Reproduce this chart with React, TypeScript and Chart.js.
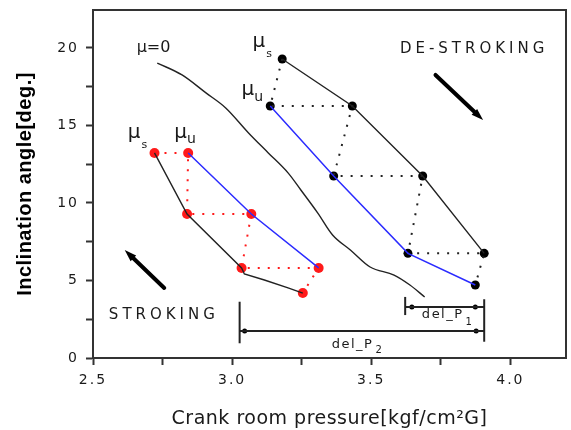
import React, { useEffect, useRef } from 'react';
import { Chart, registerables } from 'chart.js';

Chart.register(...registerables);

// ---- axes ----
const xTicks = [2.5, 2.75, 3.0, 3.25, 3.5, 3.75, 4.0];
const xTickLabels = ['2.5', '', '3.0', '', '3.5', '', '4.0'];
const yTicks = [0, 2.5, 5, 7.5, 10, 12.5, 15, 17.5, 20];
const yTickLabels = ['0', '', '5', '', '10', '', '15', '', '20'];
const xTitle = 'Crank room pressure[kgf/cm²G]';
const yTitle = 'Inclination angle[deg.]';

// ---- mu = 0 curve ----
const muZeroX = [2.731, 2.82, 2.906, 2.977, 3.059, 3.13, 3.201, 3.247, 3.308, 3.361, 3.425, 3.496, 3.582, 3.639, 3.692];
const muZeroY = [19.03, 18.26, 17.1, 16.13, 14.52, 13.23, 11.94, 10.84, 9.35, 7.94, 6.97, 5.87, 5.35, 4.71, 3.94];

// ---- stroking (red) ----
const strokeMuSX = [2.721, 2.838, 3.034, 3.254];
const strokeMuSY = [13.23, 9.29, 5.81, 4.19];
const strokeMuSLineX = [2.721, 2.838, 3.034, 3.044, 3.116, 3.201, 3.254];
const strokeMuSLineY = [13.23, 9.29, 5.81, 5.42, 5.03, 4.52, 4.19];
const strokeMuUX = [2.842, 3.069, 3.311];
const strokeMuUY = [13.23, 9.29, 5.81];

// ---- de-stroking (black) ----
const destrokeMuSX = [3.18, 3.432, 3.685, 3.906];
const destrokeMuSY = [19.29, 16.26, 11.74, 6.75];
const destrokeMuUX = [3.137, 3.365, 3.632, 3.874];
const destrokeMuUY = [16.26, 11.74, 6.75, 4.71];

// ---- del_P brackets ----
const delP1Y = 3.29;
const delP1Span = [3.622, 3.906];
const delP1Dots = [3.646, 3.874];
const delP1BarY = [2.77, 3.94];
const delP2Y = 1.74;
const delP2Span = [3.027, 3.906];
const delP2Dots = [3.045, 3.877];
const delP2BarY = [0.95, 3.63];
const rightBarX = 3.906;
const rightBarY = [1.05, 3.79];

// ---- annotations ----
const annoTexts = ['μ', 'μ', 'μ', 'μ', 'μ=0', 'DE-STROKING', 'STROKING', 'del_P', 'del_P'];
const annoSubs = ['s', 'u', 's', 'u', '', '', '', '1', '2'];
const annoX = [2.625, 2.792, 3.073, 3.034, 2.657, 3.603, 2.557, 3.682, 3.358];
const annoY = [14.19, 14.19, 20.06, 16.97, 19.74, 19.68, 2.52, 2.58, 0.645];

const arrowFromX = [3.731, 2.756];
const arrowFromY = [18.26, 4.52];
const arrowToX = [3.902, 2.614];
const arrowToY = [15.35, 6.97];

// ---- styles (not data) ----
const annoStyles = [
  { font: '20px "DejaVu Sans"', spacing: '0px', subFont: '11px "DejaVu Sans"', subDx: 1, subDy: 10 },
  { font: '20px "DejaVu Sans"', spacing: '0px', subFont: '14px "DejaVu Sans"', subDx: 0, subDy: 5 },
  { font: '20px "DejaVu Sans"', spacing: '0px', subFont: '11px "DejaVu Sans"', subDx: 1, subDy: 10 },
  { font: '20px "DejaVu Sans"', spacing: '0px', subFont: '14px "DejaVu Sans"', subDx: 0, subDy: 6 },
  { font: '16px "DejaVu Sans"', spacing: '0px', subFont: '', subDx: 0, subDy: 0 },
  { font: '15px "DejaVu Sans"', spacing: '4px', subFont: '', subDx: 0, subDy: 0 },
  { font: '15px "DejaVu Sans"', spacing: '4px', subFont: '', subDx: 0, subDy: 0 },
  { font: '13px "DejaVu Sans"', spacing: '1.5px', subFont: '10px "DejaVu Sans"', subDx: 2, subDy: 7 },
  { font: '13px "DejaVu Sans"', spacing: '1.5px', subFont: '10px "DejaVu Sans"', subDx: 2, subDy: 5 },
];

const BLACK = '#222222';
const BLUE = '#2b2bff';
const RED = '#ff1a1a';

const pts = (xs: number[], ys: number[]) => xs.map((x, i) => ({ x, y: ys[i] }));
const zigzag = (sx: number[], sy: number[], ux: number[], uy: number[]) => {
  const out: { x: number; y: number }[] = [];
  for (let i = 0; i < sx.length; i++) {
    out.push({ x: sx[i], y: sy[i] });
    if (i < ux.length) out.push({ x: ux[i], y: uy[i] });
  }
  return out;
};

const lineDs = (data: any[], color: string, width: number, dash: number[] = []) => ({
  data,
  showLine: true,
  borderColor: color,
  borderWidth: width,
  borderDash: dash,
  pointRadius: 0,
  fill: false,
  tension: 0,
});
const markerDs = (data: any[], color: string, r: number) => ({
  data,
  showLine: false,
  pointRadius: r,
  pointBackgroundColor: color,
  pointBorderColor: color,
  pointBorderWidth: 0,
});

const annoPlugin = {
  id: 'annoPlugin',
  beforeDraw(chart: any) {
    const ctx = chart.ctx;
    ctx.letterSpacing = '2px';
    Object.values(chart.scales).forEach((s: any) => {
      if (!s.__lsPatched) {
        const orig = s.drawTitle;
        s.drawTitle = function () {
          ctx.save();
          ctx.letterSpacing = '0.5px';
          orig.call(s);
          ctx.restore();
        };
        s.__lsPatched = true;
      }
    });
  },
  afterDatasetsDraw(chart: any) {
    const { ctx, chartArea: a } = chart;
    const xs = chart.scales.x;
    const ys = chart.scales.y;
    ctx.save();
    ctx.letterSpacing = '0px';
    // frame top & right
    ctx.strokeStyle = '#333';
    ctx.lineWidth = 2;
    ctx.beginPath();
    ctx.moveTo(a.left, a.top);
    ctx.lineTo(a.right, a.top);
    ctx.lineTo(a.right, a.bottom);
    ctx.stroke();
    // arrows
    ctx.fillStyle = '#000';
    ctx.strokeStyle = '#000';
    for (let i = 0; i < arrowFromX.length; i++) {
      const x0 = xs.getPixelForValue(arrowFromX[i]);
      const y0 = ys.getPixelForValue(arrowFromY[i]);
      const x1 = xs.getPixelForValue(arrowToX[i]);
      const y1 = ys.getPixelForValue(arrowToY[i]);
      const ang = Math.atan2(y1 - y0, x1 - x0);
      const headLen = 12;
      const headW = 4;
      const bx = x1 - headLen * Math.cos(ang);
      const by = y1 - headLen * Math.sin(ang);
      ctx.lineWidth = 4;
      ctx.lineCap = 'round';
      ctx.beginPath();
      ctx.moveTo(x0, y0);
      ctx.lineTo(bx, by);
      ctx.stroke();
      ctx.beginPath();
      ctx.moveTo(x1, y1);
      ctx.lineTo(bx + headW * Math.sin(ang), by - headW * Math.cos(ang));
      ctx.lineTo(bx - headW * Math.sin(ang), by + headW * Math.cos(ang));
      ctx.closePath();
      ctx.fill();
    }
    // texts
    ctx.fillStyle = '#1a1a1a';
    ctx.textAlign = 'left';
    ctx.textBaseline = 'alphabetic';
    annoTexts.forEach((t, i) => {
      const st = annoStyles[i];
      const px = xs.getPixelForValue(annoX[i]);
      const py = ys.getPixelForValue(annoY[i]);
      ctx.font = st.font;
      ctx.letterSpacing = st.spacing;
      ctx.fillText(t, px, py);
      if (annoSubs[i]) {
        const w = ctx.measureText(t).width;
        ctx.font = st.subFont;
        ctx.letterSpacing = '0px';
        ctx.fillText(annoSubs[i], px + w + st.subDx, py + st.subDy);
      }
    });
    ctx.restore();
  },
  afterDraw(chart: any) {
    chart.ctx.letterSpacing = '0px';
  },
};

export default function App() {
  const ref = useRef<HTMLCanvasElement | null>(null);
  useEffect(() => {
    if (!ref.current) return;
    const datasets: any[] = [
      { ...lineDs(pts(muZeroX, muZeroY), BLACK, 1.4), cubicInterpolationMode: 'monotone' },
      // stroking
      lineDs(pts(strokeMuSLineX, strokeMuSLineY), BLACK, 1.4),
      lineDs(pts(strokeMuUX, strokeMuUY), BLUE, 1.5),
      lineDs(zigzag(strokeMuSX, strokeMuSY, strokeMuUX, strokeMuUY), RED, 2, [2, 8]),
      markerDs(pts(strokeMuSX, strokeMuSY), RED, 5),
      markerDs(pts(strokeMuUX, strokeMuUY), RED, 5),
      // de-stroking
      lineDs(pts(destrokeMuSX, destrokeMuSY), BLACK, 1.4),
      lineDs(pts(destrokeMuUX, destrokeMuUY), BLUE, 1.5),
      lineDs(zigzag(destrokeMuSX, destrokeMuSY, destrokeMuUX, destrokeMuUY), BLACK, 2, [2, 8]),
      markerDs(pts(destrokeMuSX, destrokeMuSY), '#000', 4.5),
      markerDs(pts(destrokeMuUX, destrokeMuUY), '#000', 4.5),
      // del_P brackets
      lineDs(pts(delP1Span, [delP1Y, delP1Y]), BLACK, 2),
      lineDs(pts([delP1Span[0], delP1Span[0]], delP1BarY), BLACK, 2),
      markerDs(pts(delP1Dots, [delP1Y, delP1Y]), '#000', 2.5),
      lineDs(pts(delP2Span, [delP2Y, delP2Y]), BLACK, 2),
      lineDs(pts([delP2Span[0], delP2Span[0]], delP2BarY), BLACK, 2),
      markerDs(pts(delP2Dots, [delP2Y, delP2Y]), '#000', 2.5),
      lineDs(pts([rightBarX, rightBarX], rightBarY), BLACK, 2),
    ];
    const chart = new Chart(ref.current, {
      type: 'scatter',
      data: { datasets },
      plugins: [annoPlugin as any],
      options: {
        animation: false,
        responsive: true,
        maintainAspectRatio: false,
        devicePixelRatio: 1,
        layout: { padding: { top: 10, right: 2, left: 0, bottom: 0 } },
        plugins: { legend: { display: false }, tooltip: { enabled: false } },
        scales: {
          x: {
            type: 'linear',
            min: 2.5,
            max: 4.2,
            afterFit: (s: any) => {
              s.height = 72;
              s.paddingLeft = 0;
              s.paddingRight = 0;
              s.paddingTop = 0;
              s.paddingBottom = 0;
            },
            afterBuildTicks: (s: any) => { s.ticks = xTicks.map((v) => ({ value: v })); },
            ticks: {
              autoSkip: false,
              maxRotation: 0,
              padding: 7,
              color: '#1a1a1a',
              font: { family: '"DejaVu Sans"', size: 14 },
              callback: (_v: any, i: number) => xTickLabels[i],
            },
            grid: { display: true, drawOnChartArea: false, drawTicks: true, tickLength: 7, tickColor: '#333', tickWidth: 2 },
            border: { display: true, color: '#333', width: 2 },
            title: {
              display: true,
              text: xTitle,
              color: '#1a1a1a',
              font: { family: '"DejaVu Sans"', size: 19, lineHeight: 1.2 },
              padding: { top: 0, bottom: 0 },
            },
          },
          y: {
            type: 'linear',
            min: 0,
            max: 22.45,
            afterFit: (s: any) => {
              s.width = 93;
              s.paddingLeft = 0;
              s.paddingRight = 0;
              s.paddingTop = 0;
              s.paddingBottom = 0;
            },
            afterBuildTicks: (s: any) => { s.ticks = yTicks.map((v) => ({ value: v })); },
            ticks: {
              autoSkip: false,
              padding: 7,
              color: '#1a1a1a',
              font: { family: '"DejaVu Sans"', size: 14 },
              callback: (_v: any, i: number) => yTickLabels[i],
            },
            grid: { display: true, drawOnChartArea: false, drawTicks: true, tickLength: 7, tickColor: '#333', tickWidth: 2 },
            border: { display: true, color: '#333', width: 2 },
            title: {
              display: true,
              text: yTitle,
              color: '#000',
              font: { family: '"Liberation Sans"', size: 20, weight: 'bold', lineHeight: 1.2 },
              padding: { top: 13, bottom: 0 },
            },
          },
        },
      },
    });
    return () => chart.destroy();
  }, []);
  return (
    <div style={{ position: 'fixed', left: 0, top: 0, width: 571, height: 430 }}>
      <canvas ref={ref} />
    </div>
  );
}
